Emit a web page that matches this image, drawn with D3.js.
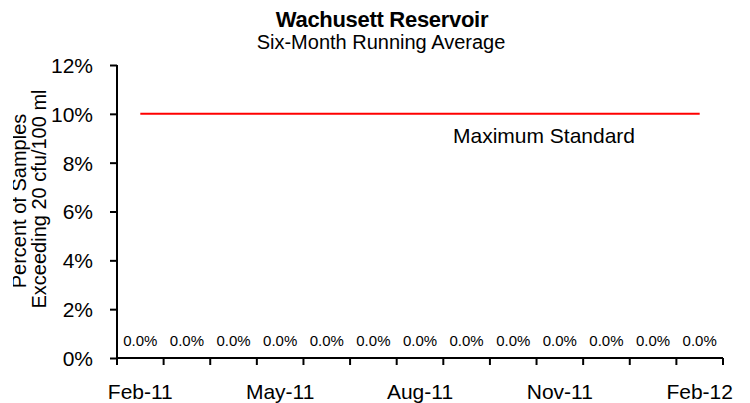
<!DOCTYPE html>
<html>
<head>
<meta charset="utf-8">
<script src="https://cdn.jsdelivr.net/npm/d3@7"></script>
<style>
  body { margin: 0; background: #fff; }
  svg { display: block; font-family: "Liberation Sans", Arial, sans-serif; }
</style>
</head>
<body>
<script>
// data
var months = ["Feb-11","Mar-11","Apr-11","May-11","Jun-11","Jul-11","Aug-11",
              "Sep-11","Oct-11","Nov-11","Dec-11","Jan-12","Feb-12"];
var exceedPct = [0,0,0,0,0,0,0,0,0,0,0,0,0];
var maxStandard = [10,10,10,10,10,10,10,10,10,10,10,10,10];
var yTicks = [0,2,4,6,8,10,12];
var xLabelMonths = ["Feb-11","May-11","Aug-11","Nov-11","Feb-12"];

var w = 750, h = 403;
var pLeft = 117, pRight = 723, pTop = 65, pBottom = 358;

var svg = d3.select("body").append("svg")
    .attr("width", w)
    .attr("height", h);

svg.append("rect").attr("width", w).attr("height", h).style("fill", "#fff");

var x = d3.scaleBand().domain(months).range([pLeft, pRight]).padding(0);
var y = d3.scaleLinear().domain([0, 12]).range([pBottom, pTop]);

// titles
svg.append("text")
    .attr("x", 382).attr("y", 27)
    .attr("text-anchor", "middle")
    .style("font-size", "22px").style("font-weight", "bold")
    .style("letter-spacing", "-0.3px")
    .text("Wachusett Reservoir");

svg.append("text")
    .attr("x", 381).attr("y", 49)
    .attr("text-anchor", "middle")
    .style("font-size", "20px")
    .text("Six-Month Running Average");

// y axis
var yAxis = svg.append("g")
    .attr("transform", "translate(" + pLeft + ",0)")
    .call(d3.axisLeft(y).tickValues(yTicks).tickSize(7).tickPadding(17)
        .tickFormat(function(d){ return d + "%"; }));
yAxis.select(".domain").attr("stroke", "#000").attr("stroke-width", 2)
    .attr("d", "M0," + pTop + "V" + pBottom);
yAxis.selectAll(".tick line").attr("stroke", "#000").attr("stroke-width", 2);
yAxis.selectAll(".tick text").style("font-size", "21px").attr("fill", "#000")
    .attr("dy", "0.35em");

// x axis: category ticks on boundaries
var xg = svg.append("g");
xg.append("line")
    .attr("x1", pLeft).attr("x2", pRight)
    .attr("y1", pBottom).attr("y2", pBottom)
    .attr("stroke", "#000").attr("stroke-width", 2);
var bounds = months.map(function(m){ return x(m); }).concat([x(months[months.length-1]) + x.bandwidth()]);
xg.selectAll("line.tk")
    .data(bounds)
    .enter().append("line")
    .attr("class", "tk")
    .attr("x1", function(d){ return d; }).attr("x2", function(d){ return d; })
    .attr("y1", pBottom).attr("y2", pBottom + 7)
    .attr("stroke", "#000").attr("stroke-width", 2);
xg.selectAll("text")
    .data(xLabelMonths)
    .enter().append("text")
    .attr("x", function(d){ return x(d) + x.bandwidth() / 2; })
    .attr("y", 399)
    .attr("text-anchor", "middle")
    .style("font-size", "21px")
    .text(function(d){ return d; });

// y axis title (left edge cut off as in the original)
svg.append("clipPath").attr("id", "ytclip")
    .append("rect").attr("x", 13).attr("y", 0).attr("width", 100).attr("height", h);
var yt = svg.append("g").attr("clip-path", "url(#ytclip)");
yt.append("text")
    .attr("transform", "translate(25.5,201) rotate(-90)")
    .attr("text-anchor", "middle")
    .style("font-size", "20px")
    .text("Percent of Samples");
yt.append("text")
    .attr("transform", "translate(45.5,199) rotate(-90)")
    .attr("text-anchor", "middle")
    .style("font-size", "20px")
    .text("Exceeding 20 cfu/100 ml");

// standard line
var line = d3.line()
    .x(function(d, i){ return x(months[i]) + x.bandwidth() / 2; })
    .y(function(d){ return y(d); });
svg.append("path")
    .datum(maxStandard)
    .attr("d", line)
    .attr("fill", "none")
    .attr("stroke", "#ff0000")
    .attr("stroke-width", 2);

svg.append("text")
    .attr("x", 544).attr("y", 143)
    .attr("text-anchor", "middle")
    .style("font-size", "21px")
    .text("Maximum Standard");

// data labels
svg.selectAll("text.lbl")
    .data(exceedPct)
    .enter().append("text")
    .attr("class", "lbl")
    .attr("x", function(d, i){ return x(months[i]) + x.bandwidth() / 2; })
    .attr("y", function(d){ return y(d) - 12; })
    .attr("text-anchor", "middle")
    .style("font-size", "15px")
    .text(function(d){ return d.toFixed(1) + "%"; });
</script>
</body>
</html>
